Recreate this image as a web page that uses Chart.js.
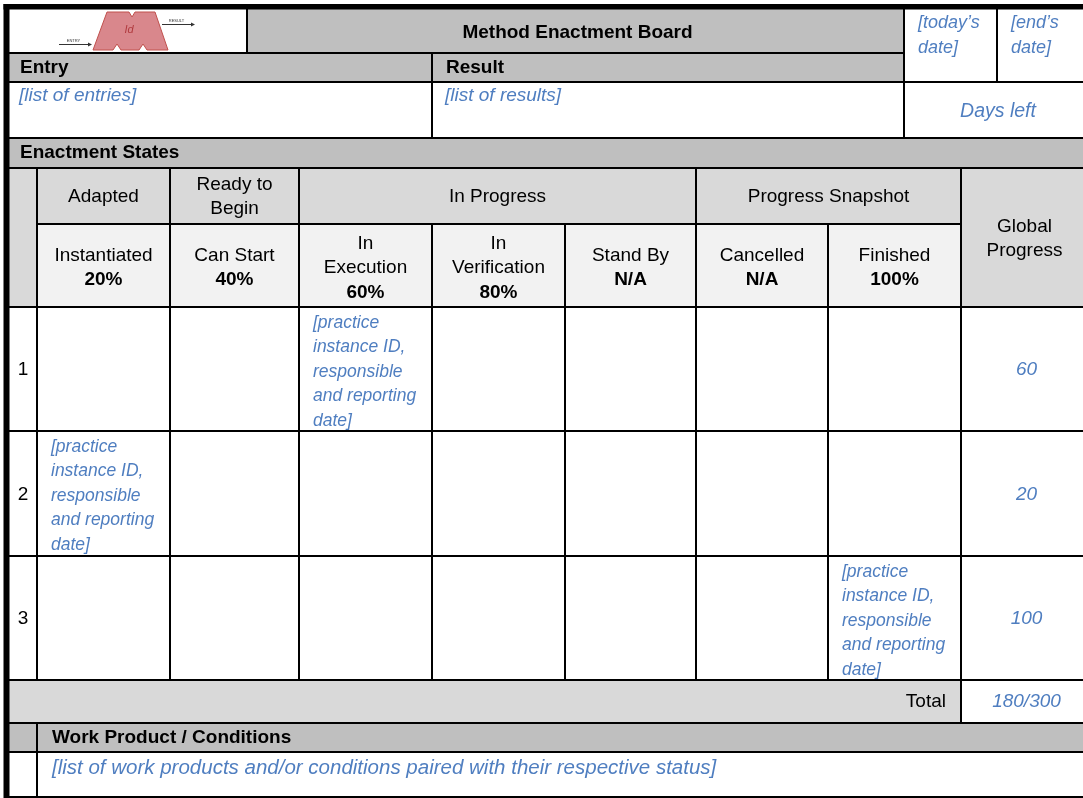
<!DOCTYPE html>
<html>
<head>
<meta charset="utf-8">
<title>Method Enactment Board</title>
<script src="https://cdn.jsdelivr.net/npm/chart.js@4.4.0/dist/chart.umd.min.js"></script>
<style>
  html, body { margin: 0; padding: 0; background: #fff; }
  #board { display: block; }
</style>
</head>
<body>
<canvas id="board" width="1083" height="798"></canvas>
<script>
// --- Board content ---
const boardTitle = 'Method Enactment Board';
const headerDates = ['[today\u2019s\ndate]', '[end\u2019s\ndate]'];
const entryLabel = 'Entry';
const resultLabel = 'Result';
const entriesText = '[list of entries]';
const resultsText = '[list of results]';
const daysLeftText = 'Days left';
const statesLabel = 'Enactment States';

// --- Enactment states ---
const stateGroups = ['Adapted', 'Ready to\nBegin', 'In Progress', 'Progress Snapshot'];
const stateGroupSpans = [1, 1, 3, 2];
const stateNames = ['Instantiated', 'Can Start', 'In\nExecution', 'In\nVerification', 'Stand By', 'Cancelled', 'Finished'];
const statePercents = ['20%', '40%', '60%', '80%', 'N/A', 'N/A', '100%'];
const globalLabel = 'Global\nProgress';

// --- Practice instances ---
const practiceRows = ['1', '2', '3'];
const practiceStates = ['In\nExecution', 'Instantiated', 'Finished'];
const practiceText = '[practice\ninstance ID,\nresponsible\nand reporting\ndate]';
const globalProgress = [60, 20, 100];
const totalLabel = 'Total';
const totalMax = 300;

// --- Work products ---
const workLabel = 'Work Product / Conditions';
const workText = '[list of work products and/or conditions paired with their respective status]';

// --- Layout (board units = pixels of the hidden linear scales) ---
const colEdges = [9, 37, 170, 299, 432, 565, 696, 828, 961, 1088];
const topEdges = { logoEnd: 247, datesStart: 904, datesMid: 997 };
const rowEdges = { top: 9, title: 53, heads: 82, lists: 138, states: 168, groups: 224, names: 307,
  rows: [307, 431, 556, 680], total: 723, work: 752, bottom: 797 };

const FONT = '"Liberation Sans", Arial, sans-serif';
const SIZE = 19;
const LH = 24.5;
const BLUE = '#4f7ec0';
const DARK = '#bfbfbf';
const MID = '#d9d9d9';
const LIGHT = '#f2f2f2';

const boardPlugin = {
    id: 'board',
    beforeDraw(chart) {
        const ctx = chart.ctx;
        const X = v => chart.scales.x.getPixelForValue(v);
        const Y = v => chart.scales.y.getPixelForValue(v);

        function box(x0, y0, x1, y1, color) {
            ctx.fillStyle = color;
            ctx.fillRect(X(x0), Y(y0), X(x1) - X(x0), Y(y1) - Y(y0));
        }
        function hline(y, x0, x1, w = 2) {
            ctx.fillStyle = '#000';
            ctx.fillRect(X(x0), Y(y) - w / 2, X(x1) - X(x0), w);
        }
        function vline(x, y0, y1, w = 2) {
            ctx.fillStyle = '#000';
            ctx.fillRect(X(x) - w / 2, Y(y0), w, Y(y1) - Y(y0));
        }
        function label(str, x, y, o = {}) {
            const lines = String(str).split('\n');
            ctx.font = `${o.italic ? 'italic ' : ''}${o.bold ? 'bold ' : ''}${o.size || SIZE}px ${FONT}`;
            ctx.fillStyle = o.color || '#000';
            ctx.textAlign = o.align || 'left';
            ctx.textBaseline = 'middle';
            const start = (o.top ? y : y - (lines.length - 1) * LH / 2) + 1;
            lines.forEach((ln, i) => ctx.fillText(ln, X(x), Y(start + i * LH)));
        }

        const L = colEdges[0], R = colEdges[colEdges.length - 1];
        const G = colEdges[8];

        // --- Backgrounds ---
        box(0, 0, 1083, 798, '#fff');
        box(topEdges.logoEnd, rowEdges.top, topEdges.datesStart, rowEdges.title, DARK);
        box(L, rowEdges.title, topEdges.datesStart, rowEdges.heads, DARK);
        box(L, rowEdges.lists, R, rowEdges.states, DARK);
        box(L, rowEdges.states, colEdges[1], rowEdges.names, MID);
        box(colEdges[1], rowEdges.states, G, rowEdges.groups, MID);
        box(colEdges[1], rowEdges.groups, G, rowEdges.names, LIGHT);
        box(G, rowEdges.states, R, rowEdges.names, MID);
        box(L, rowEdges.rows[3], G, rowEdges.total, MID);
        box(L, rowEdges.total, R, rowEdges.work, DARK);

        // --- Logo ---
        const m = [[107, 12], [129, 12], [132, 17], [135, 12], [155, 12], [168, 50], [147, 50], [143, 44],
            [139, 50], [121, 50], [117, 44], [113, 50], [93, 50]];
        ctx.beginPath();
        m.forEach(([px, py], i) => i ? ctx.lineTo(X(px), Y(py)) : ctx.moveTo(X(px), Y(py)));
        ctx.closePath();
        ctx.fillStyle = '#d9878c';
        ctx.fill();
        ctx.strokeStyle = '#c0504d';
        ctx.lineWidth = 1;
        ctx.stroke();
        label('Id', 129, 29, { italic: true, size: 11, color: '#b03a3e', align: 'center' });
        ctx.strokeStyle = '#333';
        ctx.fillStyle = '#333';
        [[59, 92, 44, 'ENTRY'], [162, 195, 24, 'RESULT']].forEach(([a, b, yy, t]) => {
            ctx.beginPath();
            ctx.moveTo(X(a), Y(yy) + 0.5);
            ctx.lineTo(X(b) - 3, Y(yy) + 0.5);
            ctx.stroke();
            ctx.beginPath();
            ctx.moveTo(X(b), Y(yy) + 0.5);
            ctx.lineTo(X(b) - 4, Y(yy) - 1.5);
            ctx.lineTo(X(b) - 4, Y(yy) + 2.5);
            ctx.closePath();
            ctx.fill();
            label(t, (a + b) / 2 - 2, yy - 4, { size: 4, color: '#333', align: 'center' });
        });

        // --- Top texts ---
        label(boardTitle, (topEdges.logoEnd + topEdges.datesStart) / 2 + 2, 32, { bold: true, align: 'center' });
        label(headerDates[0], topEdges.datesStart + 14, 22, { italic: true, color: BLUE, top: true, size: 18 });
        label(headerDates[1], topEdges.datesMid + 14, 22, { italic: true, color: BLUE, top: true, size: 18 });
        label(entryLabel, L + 11, 67, { bold: true });
        label(resultLabel, colEdges[4] + 14, 67, { bold: true });
        label(entriesText, L + 10, 95, { italic: true, color: BLUE });
        label(resultsText, colEdges[4] + 13, 95, { italic: true, color: BLUE });
        label(daysLeftText, (topEdges.datesStart + R) / 2 + 2, 111, { italic: true, color: BLUE, align: 'center', size: 19.5 });
        label(statesLabel, L + 11, 152, { bold: true });

        // --- State headers ---
        let c = 1;
        stateGroups.forEach((g, i) => {
            const x0 = colEdges[c], x1 = colEdges[c + stateGroupSpans[i]];
            label(g, (x0 + x1) / 2, 196, { align: 'center' });
            c += stateGroupSpans[i];
        });
        stateNames.forEach((n, i) => {
            const cx = (colEdges[i + 1] + colEdges[i + 2]) / 2;
            const lines = n.split('\n');
            const count = lines.length + 1;
            const start = 267 - (count - 1) * LH / 2;
            label(n, cx, start, { align: 'center', top: true });
            label(statePercents[i], cx, start + lines.length * LH, { bold: true, align: 'center' });
        });
        label(globalLabel, (G + R) / 2, 238, { align: 'center' });

        // --- Practice rows ---
        practiceRows.forEach((r, i) => {
            const y0 = rowEdges.rows[i], y1 = rowEdges.rows[i + 1];
            label(r, (L + colEdges[1]) / 2, (y0 + y1) / 2, { align: 'center' });
            const col = stateNames.indexOf(practiceStates[i]);
            label(practiceText, colEdges[col + 1] + 14, y0 + 15, { italic: true, color: BLUE, top: true, size: 17.5 });
            label(String(globalProgress[i]), (G + R) / 2 + 2, (y0 + y1) / 2, { italic: true, color: BLUE, align: 'center' });
        });
        const total = globalProgress.reduce((a, b) => a + b, 0);
        label(totalLabel, G - 15, 701, { align: 'right' });
        label(total + '/' + totalMax, (G + R) / 2 + 2, 701, { italic: true, color: BLUE, align: 'center' });

        // --- Work products ---
        label(workLabel, colEdges[1] + 15, 737, { bold: true });
        label(workText, colEdges[1] + 15, 767, { italic: true, color: BLUE, size: 20.5 });

        // --- Grid lines ---
        hline(rowEdges.title, L, topEdges.datesStart);
        [rowEdges.heads, rowEdges.lists, rowEdges.states, rowEdges.names, ...rowEdges.rows.slice(1),
            rowEdges.total, rowEdges.work, rowEdges.bottom].forEach(y => hline(y, L, R));
        hline(rowEdges.groups, colEdges[1], G);
        vline(topEdges.logoEnd, rowEdges.top, rowEdges.title);
        vline(topEdges.datesStart, rowEdges.top, rowEdges.lists);
        vline(topEdges.datesMid, rowEdges.top, rowEdges.heads);
        vline(colEdges[4], rowEdges.title, rowEdges.lists);
        vline(colEdges[1], rowEdges.states, rowEdges.rows[3]);
        vline(colEdges[1], rowEdges.total, rowEdges.bottom);
        [2, 3, 6].forEach(k => vline(colEdges[k], rowEdges.states, rowEdges.rows[3]));
        [4, 5, 7].forEach(k => vline(colEdges[k], rowEdges.groups, rowEdges.rows[3]));
        vline(G, rowEdges.states, rowEdges.total);

        // --- Outer border ---
        ctx.fillStyle = '#000';
        ctx.fillRect(X(3.5), Y(4), X(9.5) - X(3.5), Y(798) - Y(4));
        ctx.fillRect(X(3.5), Y(4), X(1083) - X(3.5), Y(9.5) - Y(4));
    }
};

new Chart(document.getElementById('board'), {
    type: 'scatter',
    data: { datasets: [{ data: [], pointRadius: 0 }] },
    options: {
        responsive: false,
        animation: false,
        devicePixelRatio: 1,
        layout: { padding: 0 },
        scales: {
            x: { type: 'linear', min: 0, max: 1083, display: false },
            y: { type: 'linear', min: 0, max: 798, reverse: true, display: false }
        },
        plugins: { legend: { display: false }, tooltip: { enabled: false } }
    },
    plugins: [boardPlugin]
});
</script>
</body>
</html>
